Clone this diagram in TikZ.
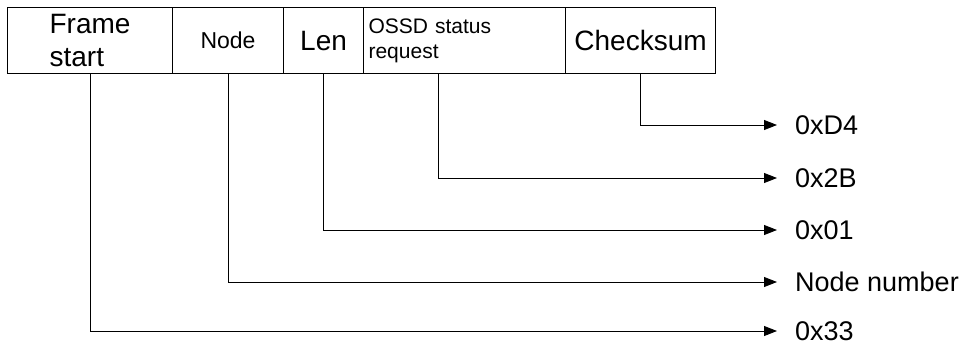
\documentclass[tikz,border=0pt]{standalone}
\usepackage{fontspec}
\setmainfont{Liberation Sans}
\usetikzlibrary{arrows.meta,positioning}

\begin{document}
\begin{tikzpicture}[x=1pt,y=-1pt,
  field/.style={draw,line width=1.1pt,minimum height=66pt,inner sep=0pt,anchor=north west,font=\fontsize{28}{33}\selectfont},
  value/.style={anchor=west,inner xsep=18pt,inner ysep=0pt,font=\fontsize{27}{30}\selectfont},
  link/.style={line width=0.9pt,-{Triangle[length=13pt,width=10pt]}}]
\useasboundingbox (0,0) rectangle (961,346);
% frame fields
\node[field,minimum width=165pt,align=left] (fstart) at (7,7) {Frame\\start};
\node[field,minimum width=111pt,font=\fontsize{23}{27}\selectfont] (fnode) at (172,7) {Node};
\node[field,minimum width=80pt] (flen) at (283,7) {Len};
\node[field,text width=192pt,inner xsep=5pt,align=left,font=\fontsize{21}{25}\selectfont] (freq) at (363,7) {OSSD status\\request};
\node[field,minimum width=150pt] (fsum) at (565,7) {Checksum};
% values
\node[value] (vsum) at (777,125) {0xD4};
\node[value] (vreq) at (777,178) {0x2B};
\node[value] (vlen) at (777,230) {0x01};
\node[value] (vnode) at (777,282) {Node number};
\node[value] (vstart) at (777,331) {0x33};
% links
\draw[link] (fsum.south) |- (vsum.west);
\draw[link] ([xshift=-26pt]freq.south) |- (vreq.west);
\draw[link] (flen.south) |- (vlen.west);
\draw[link] (fnode.south) |- (vnode.west);
\draw[link] (fstart.south) |- (vstart.west);
\end{tikzpicture}
\end{document}
